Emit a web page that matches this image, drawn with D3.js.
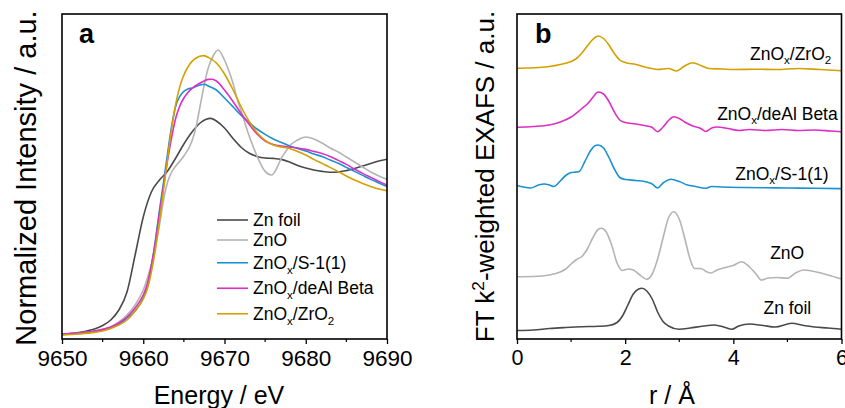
<!DOCTYPE html>
<html lang="en">
<head>
<meta charset="UTF-8">
<title>Zn K-edge XANES / EXAFS</title>
<script src="https://cdnjs.cloudflare.com/ajax/libs/d3/7.8.5/d3.min.js"></script>
<style>
  body { margin: 0; background: #fff; }
  svg { font-family: "Liberation Sans", Arial, sans-serif; display: block; }
</style>
</head>
<body>
<svg id="chart" width="845" height="408"></svg>
<script>
// sample names (underscore = subscript) and colours, legend order
const samples = ["Zn foil", "ZnO", "ZnO_x/S-1(1)", "ZnO_x/deAl Beta", "ZnO_x/ZrO_2"];
const colors = ["#4a4a4a", "#b4b4b4", "#1b91d3", "#dc2fc4", "#d4a000"];

// (a) normalized XANES, [energy eV, intensity]
const xanesTicks = [9650, 9660, 9670, 9680, 9690];
const xanesFoil = [[9650,0.004],[9652,0.0125],[9654,0.03],[9655,0.0475],[9656,0.075],[9657,0.125],[9658,0.215],[9659,0.40],[9660,0.59],[9661,0.715],[9662,0.775],[9663,0.82],[9664,0.885],[9665,0.955],[9666,1.015],[9667,1.06],[9668.3,1.083],[9669,1.07],[9670,1.035],[9671,0.985],[9672,0.94],[9673,0.91],[9674,0.893],[9675,0.885],[9676,0.883],[9677,0.878],[9678,0.865],[9679,0.848],[9680,0.835],[9681,0.825],[9682,0.818],[9683,0.814],[9684,0.815],[9685,0.822],[9686,0.833],[9687,0.845],[9688,0.858],[9689,0.87],[9690,0.879]];
const xanesZnO = [[9650,0.003],[9654,0.02],[9656,0.04],[9657,0.065],[9658,0.10],[9659,0.15],[9660,0.225],[9661,0.355],[9662,0.55],[9662.5,0.675],[9663,0.765],[9663.5,0.815],[9664,0.845],[9665,0.895],[9666,0.97],[9666.5,1.04],[9667,1.145],[9667.5,1.25],[9668,1.335],[9668.6,1.395],[9669.2,1.425],[9670,1.375],[9670.5,1.325],[9671,1.265],[9671.7,1.16],[9672,1.125],[9673,1.0],[9674,0.895],[9675,0.818],[9675.8,0.80],[9676.5,0.84],[9677,0.885],[9677.5,0.915],[9678,0.945],[9679,0.975],[9680,0.99],[9681,0.98],[9682,0.96],[9683,0.935],[9684,0.915],[9685,0.89],[9686,0.865],[9687,0.84],[9688,0.815],[9689,0.795],[9690,0.778]];
const xanesS1 = [[9650,0.003],[9652,0.008],[9654,0.018],[9655,0.025],[9656,0.038],[9657,0.055],[9658,0.085],[9659,0.12],[9660,0.185],[9660.5,0.245],[9661,0.345],[9661.5,0.475],[9662,0.625],[9662.5,0.765],[9663,0.91],[9663.5,1.045],[9664,1.145],[9664.5,1.193],[9665,1.218],[9665.5,1.23],[9666,1.235],[9667,1.25],[9667.5,1.254],[9668,1.245],[9669,1.225],[9670,1.185],[9671,1.143],[9672,1.10],[9673,1.063],[9674,1.03],[9675,1.003],[9676,0.98],[9677,0.963],[9678,0.945],[9679,0.933],[9680,0.92],[9681,0.905],[9682,0.892],[9683,0.875],[9684,0.859],[9685,0.838],[9686,0.818],[9687,0.798],[9688,0.778],[9689,0.76],[9690,0.742]];
const xanesBeta = [[9650,0.005],[9652,0.01],[9654,0.02],[9655,0.028],[9656,0.04],[9657,0.06],[9658,0.09],[9659,0.135],[9660,0.20],[9660.5,0.255],[9661,0.345],[9661.5,0.465],[9662,0.61],[9662.5,0.745],[9663,0.875],[9663.5,0.99],[9664,1.085],[9664.5,1.145],[9665,1.185],[9665.5,1.213],[9666,1.233],[9667,1.26],[9667.5,1.27],[9668,1.278],[9668.5,1.279],[9669,1.27],[9670,1.225],[9671,1.17],[9672,1.11],[9673,1.055],[9674,1.005],[9675,0.97],[9676,0.953],[9677,0.945],[9678,0.94],[9679,0.935],[9680,0.928],[9681,0.918],[9682,0.908],[9683,0.893],[9684,0.873],[9685,0.853],[9686,0.83],[9687,0.808],[9688,0.788],[9689,0.768],[9690,0.75]];
const xanesZrO2 = [[9650,0],[9652,0.005],[9654,0.013],[9655,0.02],[9656,0.033],[9657,0.05],[9658,0.075],[9659,0.12],[9660,0.18],[9660.5,0.23],[9661,0.315],[9661.5,0.43],[9662,0.57],[9662.5,0.725],[9663,0.885],[9663.5,1.035],[9664,1.155],[9664.5,1.242],[9665,1.30],[9665.5,1.34],[9666,1.368],[9666.5,1.385],[9667.4,1.397],[9668,1.388],[9669,1.36],[9670,1.305],[9671,1.23],[9672,1.145],[9673,1.07],[9674,1.013],[9675,0.973],[9676,0.95],[9677,0.94],[9678,0.933],[9679,0.918],[9680,0.90],[9681,0.878],[9682,0.858],[9683,0.838],[9684,0.817],[9685,0.795],[9686,0.775],[9687,0.758],[9688,0.743],[9689,0.73],[9690,0.722]];

// (b) FT k2-weighted EXAFS, stacked with offsets, [r in Å, a.u.]
const exafsTicks = [0, 2, 4, 6];
const exafsFoil = [[0,0.17],[0.3,0.18],[0.6,0.21],[0.9,0.23],[1.2,0.246],[1.5,0.254],[1.7,0.27],[1.85,0.33],[1.95,0.46],[2.05,0.68],[2.15,0.90],[2.25,1.0],[2.31,1.014],[2.4,0.96],[2.5,0.80],[2.6,0.54],[2.7,0.35],[2.8,0.26],[3.0,0.194],[3.2,0.22],[3.45,0.26],[3.65,0.28],[3.85,0.23],[3.97,0.194],[4.1,0.26],[4.3,0.30],[4.55,0.27],[4.77,0.24],[5.08,0.314],[5.3,0.27],[5.5,0.24],[5.75,0.22],[6.0,0.194]];
const exafsZnO = [[0,1.246],[0.3,1.25],[0.6,1.28],[0.8,1.34],[0.9,1.40],[1.0,1.50],[1.1,1.59],[1.2,1.65],[1.3,1.80],[1.4,2.02],[1.5,2.19],[1.56,2.214],[1.65,2.14],[1.75,1.88],[1.85,1.52],[1.95,1.37],[2.05,1.40],[2.15,1.38],[2.25,1.30],[2.4,1.194],[2.5,1.30],[2.6,1.60],[2.7,2.02],[2.8,2.42],[2.9,2.546],[3.0,2.40],[3.1,2.02],[3.2,1.60],[3.28,1.41],[3.4,1.41],[3.5,1.35],[3.58,1.32],[3.7,1.38],[3.85,1.43],[4.0,1.47],[4.15,1.546],[4.3,1.44],[4.42,1.30],[4.52,1.18],[4.65,1.22],[4.8,1.23],[5.0,1.214],[5.15,1.32],[5.3,1.38],[5.5,1.35],[5.75,1.28],[6.0,1.20]];
const exafsS1 = [[0,3.07],[0.12,3.04],[0.25,3.02],[0.4,3.08],[0.5,3.10],[0.6,3.08],[0.68,3.05],[0.8,3.16],[0.9,3.27],[1.0,3.33],[1.1,3.34],[1.15,3.35],[1.25,3.54],[1.35,3.75],[1.45,3.87],[1.5,3.88],[1.6,3.82],[1.7,3.63],[1.8,3.40],[1.9,3.23],[2.0,3.19],[2.2,3.17],[2.4,3.14],[2.5,3.10],[2.6,3.02],[2.7,3.12],[2.85,3.194],[3.0,3.15],[3.15,3.08],[3.3,3.05],[3.48,3.014],[3.6,3.05],[3.8,3.04],[4.2,3.03],[4.6,3.024],[5.0,3.02],[5.5,3.014],[6.0,3.006]];
const exafsBeta = [[0,4.234],[0.3,4.25],[0.6,4.28],[0.8,4.34],[1.0,4.44],[1.2,4.61],[1.3,4.70],[1.4,4.83],[1.5,4.94],[1.6,4.90],[1.7,4.75],[1.8,4.54],[1.9,4.38],[2.0,4.33],[2.2,4.30],[2.4,4.26],[2.5,4.23],[2.6,4.146],[2.7,4.24],[2.8,4.37],[2.9,4.446],[3.0,4.41],[3.1,4.34],[3.25,4.26],[3.4,4.21],[3.49,4.15],[3.6,4.22],[3.7,4.24],[3.9,4.21],[4.1,4.17],[4.3,4.19],[4.6,4.17],[4.9,4.19],[5.2,4.17],[5.5,4.18],[5.8,4.16],[6.0,4.146]];
const exafsZrO2 = [[0,5.414],[0.2,5.42],[0.4,5.43],[0.6,5.45],[0.8,5.49],[1.0,5.55],[1.1,5.61],[1.2,5.72],[1.3,5.86],[1.4,5.99],[1.5,6.06],[1.6,6.01],[1.7,5.88],[1.8,5.71],[1.9,5.58],[2.0,5.53],[2.2,5.49],[2.4,5.43],[2.6,5.39],[2.8,5.41],[2.95,5.36],[3.1,5.46],[3.25,5.526],[3.4,5.47],[3.55,5.41],[3.8,5.40],[4.0,5.39],[4.4,5.396],[4.8,5.39],[5.2,5.41],[5.6,5.39],[6.0,5.366]];
// curve labels in panel b: right end (r) and baseline (a.u.)
const exafsLabelR = [5.44, 5.31, 5.76, 5.93, 5.81];
const exafsLabelY = [0.506, 1.60, 3.19, 4.39, 5.59];

const xanes = [xanesFoil, xanesZnO, xanesS1, xanesBeta, xanesZrO2];
const exafs = [exafsFoil, exafsZnO, exafsS1, exafsBeta, exafsZrO2];

const svg = d3.select("#chart");

// text with _x subscripts and ^x superscripts
function richText(sel, str, size) {
  const parts = str.split(/([_^].)/).filter(p => p);
  let shift = 0;
  parts.forEach(p => {
    let target = 0, fs = size, t = p;
    if (p[0] === "_") { target = size * 0.28; fs = size * 0.66; t = p[1]; }
    if (p[0] === "^") { target = -size * 0.38; fs = size * 0.66; t = p[1]; }
    sel.append("tspan").attr("dy", target - shift).attr("font-size", fs).text(t);
    shift = target;
  });
}

function panel(opts) {
  const { left, right, top, bottom, xDomain, yDomain, ticks, minor, series, id, tickSize } = opts;
  const x = d3.scaleLinear().domain(xDomain).range([left, right]);
  const y = d3.scaleLinear().domain(yDomain).range([bottom, top]);

  svg.append("clipPath").attr("id", id)
    .append("rect").attr("x", left).attr("y", top).attr("width", right - left).attr("height", bottom - top);

  const line = d3.line().x(d => x(d[0])).y(d => y(d[1])).curve(d3.curveMonotoneX);
  svg.append("g").attr("clip-path", `url(#${id})`)
    .selectAll("path").data(series).enter()
    .append("path")
    .attr("d", line)
    .attr("fill", "none")
    .attr("stroke", (d, i) => colors[i])
    .attr("stroke-width", 1.6);

  const axis = svg.append("g").attr("transform", `translate(0,${bottom})`)
    .call(d3.axisBottom(x).tickValues(ticks).tickSize(5).tickSizeOuter(0).tickPadding(6).tickFormat(d3.format("d")));
  axis.select(".domain").remove();
  axis.selectAll("line").attr("stroke", "#000").attr("stroke-width", 1.3);
  axis.selectAll("text").attr("font-size", tickSize).attr("fill", "#000")
    .attr("font-family", "'Liberation Sans', Arial, sans-serif");

  svg.append("g").attr("transform", `translate(0,${bottom})`)
    .selectAll("line").data(minor).enter().append("line")
    .attr("x1", d => x(d)).attr("x2", d => x(d))
    .attr("y1", 0).attr("y2", 3)
    .attr("stroke", "#000").attr("stroke-width", 1.2);

  svg.append("rect")
    .attr("x", left).attr("y", top).attr("width", right - left).attr("height", bottom - top)
    .attr("fill", "none").attr("stroke", "#000").attr("stroke-width", 1.6);

  return { x, y };
}

// ---- panel a
const a = panel({
  left: 62, right: 387, top: 14, bottom: 339,
  xDomain: [9650, 9690], yDomain: [-0.02, 1.605],
  ticks: xanesTicks, minor: [9655, 9665, 9675, 9685],
  series: xanes, id: "clipA", tickSize: 22.5
});

svg.append("text").attr("x", 79).attr("y", 42.7)
  .attr("font-size", 27).attr("font-weight", "bold").text("a");

svg.append("text").attr("x", 219).attr("y", 404)
  .attr("text-anchor", "middle").attr("font-size", 25).text("Energy / eV");

svg.append("text").attr("transform", "translate(36,178) rotate(-90)")
  .attr("text-anchor", "middle").attr("font-size", 29).text("Normalized Intensity / a.u.");

// legend: rows with subscripts are a bit taller
const legend = svg.append("g");
let ly = 220;
samples.forEach((s, i) => {
  if (i > 0) {
    const prev = samples[i - 1].includes("_") ? 25.5 : 20;
    const cur = s.includes("_") ? 25.5 : 20;
    ly += (prev + cur) / 2;
  }
  legend.append("line").attr("x1", 217).attr("x2", 248).attr("y1", ly).attr("y2", ly)
    .attr("stroke", colors[i]).attr("stroke-width", 1.6);
  const t = legend.append("text").attr("x", 253).attr("y", ly + 6).attr("font-size", 17.5);
  richText(t, s, 17.5);
});

// ---- panel b
const b = panel({
  left: 517, right: 841.5, top: 14, bottom: 339,
  xDomain: [0, 6], yDomain: [0, 6.5],
  ticks: exafsTicks, minor: [1, 3, 5],
  series: exafs, id: "clipB", tickSize: 21.5
});

svg.append("text").attr("x", 535).attr("y", 42.7)
  .attr("font-size", 27).attr("font-weight", "bold").text("b");

samples.forEach((s, i) => {
  const t = svg.append("text")
    .attr("x", b.x(exafsLabelR[i])).attr("y", b.y(exafsLabelY[i]))
    .attr("text-anchor", "end").attr("font-size", 17.5);
  richText(t, s, 17.5);
});

const xt = svg.append("text").attr("x", 672).attr("y", 404)
  .attr("text-anchor", "middle").attr("font-size", 25).text("r / Å");

const yt = svg.append("text").attr("transform", "translate(494,176.5) rotate(-90)")
  .attr("text-anchor", "middle").attr("font-size", 26);
richText(yt, "FT k^2-weighted EXAFS / a.u.", 26);
</script>
</body>
</html>
